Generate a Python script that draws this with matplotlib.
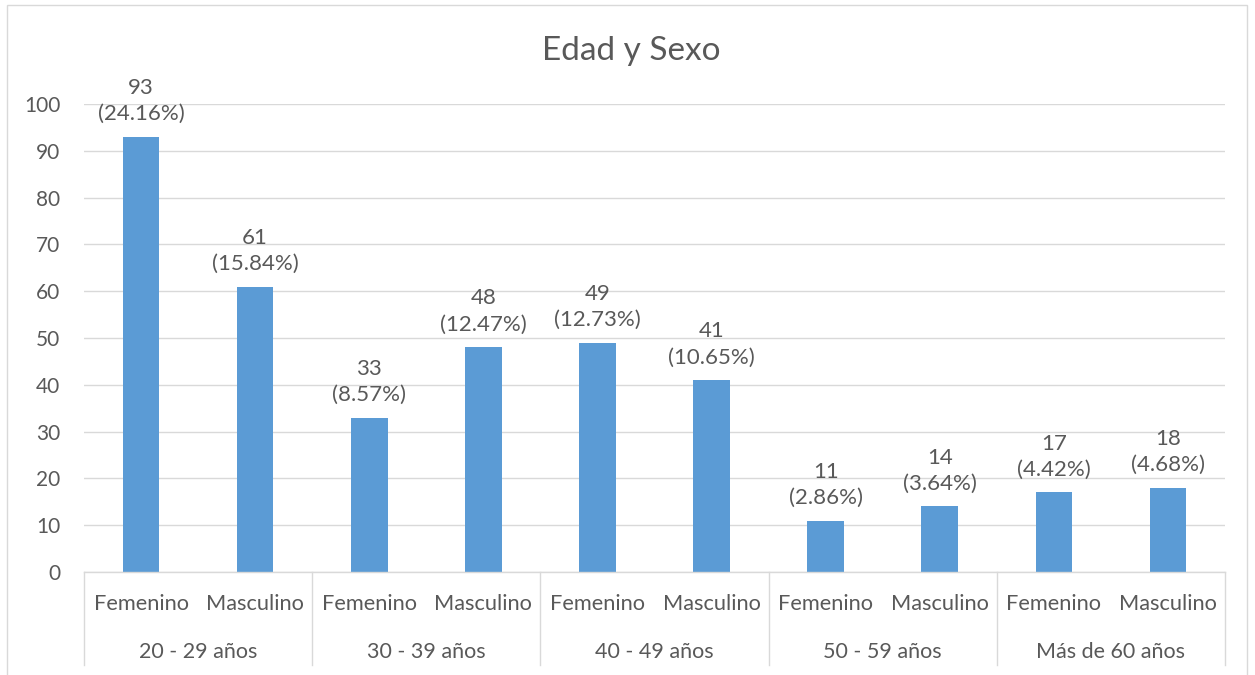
import matplotlib
matplotlib.use("Agg")
import matplotlib.pyplot as plt
from matplotlib.patches import Rectangle
from matplotlib.transforms import blended_transform_factory

groups = ["20 - 29 años", "30 - 39 años", "40 - 49 años", "50 - 59 años", "Más de 60 años"]
sexes = ["Femenino", "Masculino"]
values = [93, 61, 33, 48, 49, 41, 11, 14, 17, 18]
pct_labels = ["24.16%", "15.84%", "8.57%", "12.47%", "12.73%", "10.65%", "2.86%", "3.64%", "4.42%", "4.68%"]
yticks = [0, 10, 20, 30, 40, 50, 60, 70, 80, 90, 100]

plt.rcParams['font.family'] = ['Lato', 'DejaVu Sans']
TXT = "#595959"
GRID = "#d9d9d9"
BAR = "#5b9bd5"

W, H = 1255, 675
fig = plt.figure(figsize=(W / 100, H / 100), dpi=100)
ax = fig.add_axes([84 / W, 1 - 572 / H, (1225 - 84) / W, (572 - 104) / H])

# outer chart frame
fig.patches.append(Rectangle((7 / W, -0.01), (1247 - 7) / W, 1 - 5 / H + 0.01,
                             transform=fig.transFigure, fill=False,
                             edgecolor=GRID, linewidth=1.0))

n = len(values)
xs = list(range(n))
ax.bar(xs, values, width=0.32, color=BAR, zorder=3)
ax.set_xlim(-0.5, n - 0.5)
ax.set_ylim(0, 100)
ax.set_yticks(yticks)
ax.set_yticklabels([str(t) for t in yticks], fontsize=15, color=TXT)
ax.tick_params(axis='y', length=0, pad=17)
ax.set_xticks([])
for s in ax.spines.values():
    s.set_visible(False)
ax.grid(axis='y', color=GRID, linewidth=1.0, zorder=0)
ax.set_axisbelow(True)

for x, v, p in zip(xs, values, pct_labels):
    ax.annotate(f"{v}\n({p})", (x, v), xytext=(0, 9), textcoords="offset points",
                ha="center", va="bottom", fontsize=16, color=TXT, linespacing=1.4)

# x axis line
ax.plot([-0.5, n - 0.5], [0, 0], color=GRID, lw=1.0, clip_on=False, zorder=4)

trans = blended_transform_factory(ax.transData, ax.transAxes)
px = 1 / (572 - 104)
# multi-level labels
for i, x in enumerate(xs):
    ax.text(x, -32 * px, sexes[i % 2], transform=trans, ha="center", va="center",
            fontsize=15.7, color=TXT)
for g, name in enumerate(groups):
    ax.text(2 * g + 0.5, -80 * px, name, transform=trans, ha="center", va="center",
            fontsize=15.5, color=TXT)
for b in range(len(groups) + 1):
    xb = 2 * b - 0.5
    ax.plot([xb, xb], [0, -93 * px], transform=trans, color=GRID, lw=1.0, clip_on=False)

fig.text(631 / W, 1 - 51 / H, "Edad y Sexo", ha="center", va="center", fontsize=24, color=TXT)

fig.savefig("out.png", dpi=100)
